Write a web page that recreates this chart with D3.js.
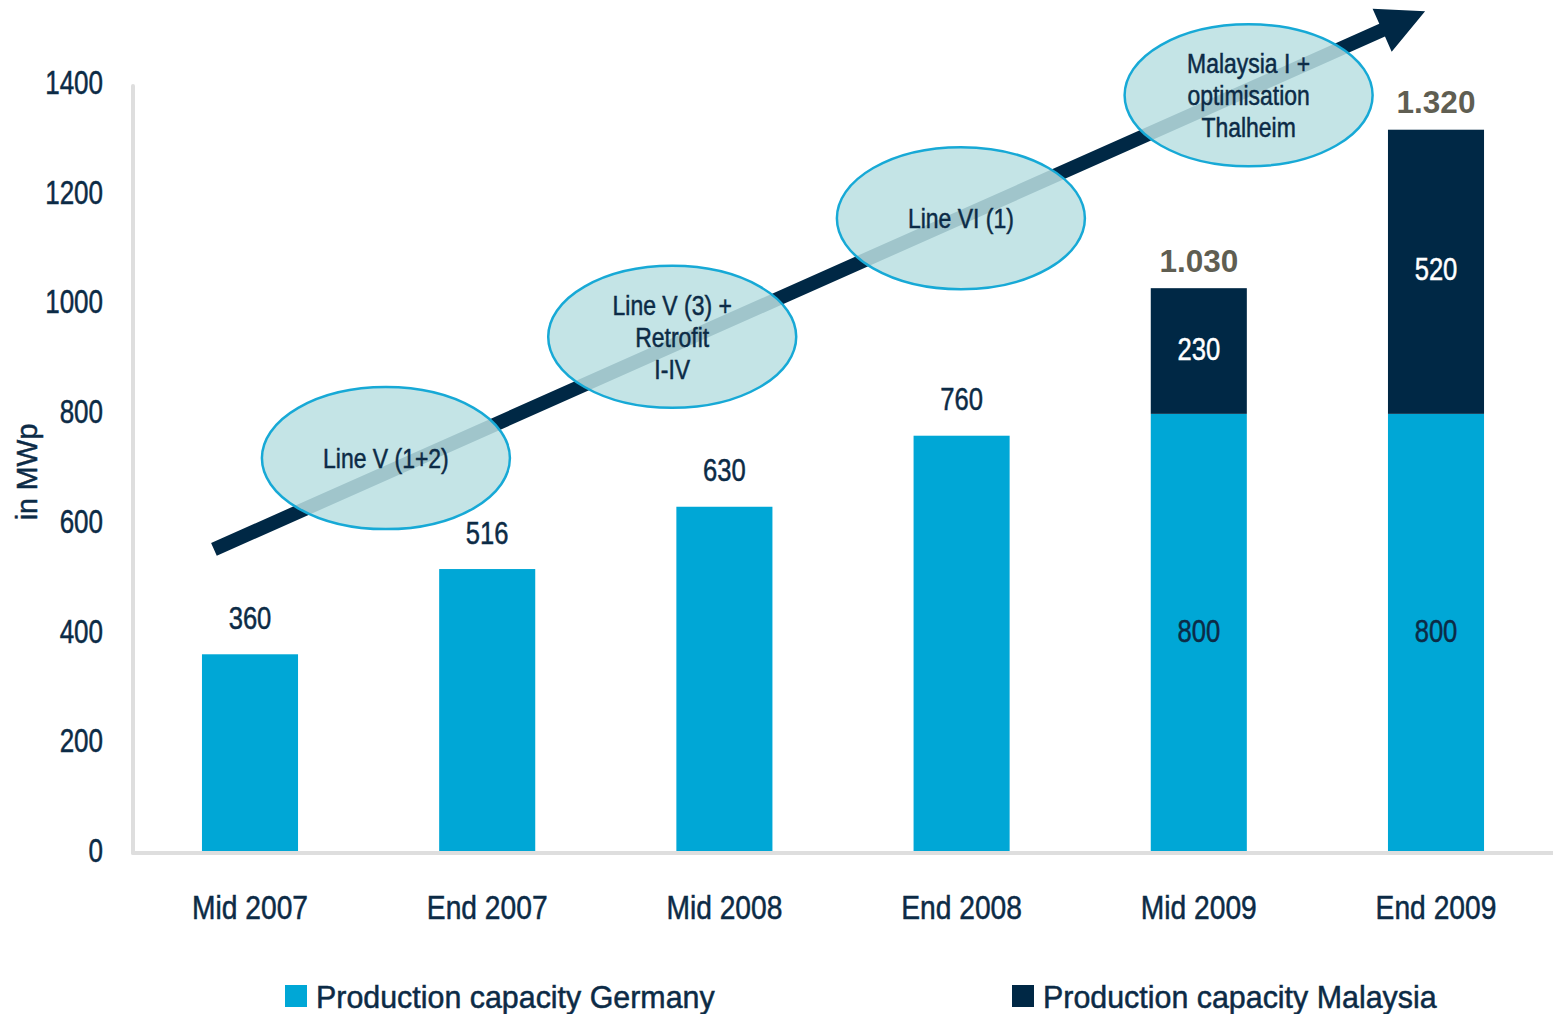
<!DOCTYPE html>
<html>
<head>
<meta charset="utf-8">
<script src="https://cdn.jsdelivr.net/npm/d3@7"></script>
<style>
  html, body { margin: 0; padding: 0; background: #ffffff; }
  svg { display: block; }
  .cond { font-family: "Liberation Sans", Arial, sans-serif; stroke-width: 0.5px; paint-order: fill; }
</style>
</head>
<body>
<svg id="chart" width="1553" height="1014"></svg>
<script>
// ---- data ----
const categories = ["Mid 2007", "End 2007", "Mid 2008", "End 2008", "Mid 2009", "End 2009"];
const germany = [360, 516, 630, 760, 800, 800];
const malaysia = [0, 0, 0, 0, 230, 520];
const yTicks = [0, 200, 400, 600, 800, 1000, 1200, 1400];
const seriesNames = ["Production capacity Germany", "Production capacity Malaysia"];
const yAxisTitle = "in MWp";
// annotation milestones (position in category-index units, value units)
const milestoneLabels = [["Line V (1+2)"], ["Line V (3) +", "Retrofit", "I-IV"], ["Line VI (1)"], ["Malaysia I +", "optimisation", "Thalheim"]];
const milestoneIndex = [0.573, 1.78, 2.997, 4.21];
const milestoneValue = [719, 941, 1158, 1383];
// trend arrow (category-index units, value units)
const arrowFrom = [-0.152, 552];
const arrowTo = [4.954, 1537];

// ---- layout ----
const W = 1553, H = 1014;
const colGer = "#00a7d6", colMal = "#002845", txt = "#0c2b46", totalCol = "#5f5e52";
const svg = d3.select("#chart");

// horizontally condensed text (Arial-Narrow-like look)
function narrow(sel, s) {
  sel.each(function () {
    const t = d3.select(this);
    const x = +t.attr("x") || 0, y = +t.attr("y") || 0;
    t.attr("x", 0).attr("y", 0).attr("transform", `translate(${x},${y}) scale(${s},1)`);
  });
}

const x = d3.scaleBand().domain(categories).range([131.4, 1554.6]).paddingInner(0.595).paddingOuter(0.2975);
const y = d3.scaleLinear().domain([0, 1400]).range([851, 86]);
const xi = d3.scaleLinear().domain([0, 1]).range([x(categories[0]) + x.bandwidth() / 2, x(categories[1]) + x.bandwidth() / 2]);

const fmt = d3.formatLocale({ decimal: ",", thousands: ".", grouping: [3], currency: ["", "€"] }).format(",");

// y axis tick labels
const yAxis = d3.axisLeft(y).tickValues(yTicks).tickSize(0).tickPadding(30).tickFormat(d3.format("d"));
const gy = svg.append("g").attr("transform", "translate(133,0)").call(yAxis);
gy.select(".domain").remove();
gy.selectAll("text").attr("class", "cond").attr("font-size", 32.5).attr("fill", txt).attr("stroke", txt)
  .attr("dy", "0.36em").attr("y", d => -1 - d / 400);
narrow(gy.selectAll("text"), 0.8);

// axis lines
svg.append("line").attr("x1", 133).attr("x2", 133).attr("y1", 86).attr("y2", 853).attr("stroke", "#dedede").attr("stroke-width", 4).attr("stroke-linecap", "round");
svg.append("line").attr("x1", 133).attr("x2", W).attr("y1", 853).attr("y2", 853).attr("stroke", "#dedede").attr("stroke-width", 4).attr("stroke-linecap", "round");

// bars
const rows = categories.map((c, i) => ({ c, g: germany[i], m: malaysia[i] }));
svg.append("g").selectAll("rect").data(rows).join("rect")
  .attr("x", d => x(d.c)).attr("width", x.bandwidth())
  .attr("y", d => y(d.g)).attr("height", d => y(0) - y(d.g)).attr("fill", colGer);
svg.append("g").selectAll("rect").data(rows.filter(d => d.m > 0)).join("rect")
  .attr("x", d => x(d.c)).attr("width", x.bandwidth())
  .attr("y", d => y(d.g + d.m)).attr("height", d => y(d.g) - y(d.g + d.m)).attr("fill", colMal);

// x category labels
const xAxis = d3.axisBottom(x).tickSize(0).tickPadding(45);
const gx = svg.append("g").attr("transform", "translate(0,851)").call(xAxis);
gx.select(".domain").remove();
gx.selectAll("text").attr("class", "cond").attr("font-size", 33).attr("fill", txt).attr("stroke", txt);
narrow(gx.selectAll("text"), 0.855);

// y title
svg.append("text").attr("class", "cond").attr("transform", "translate(37,472) rotate(-90) scale(0.95,1)")
  .attr("text-anchor", "middle").attr("font-size", 30).attr("fill", txt).attr("stroke", txt).text(yAxisTitle);

// trend arrow
const p0 = [xi(arrowFrom[0]), y(arrowFrom[1])], p1 = [xi(arrowTo[0]), y(arrowTo[1])];
const dx = p1[0] - p0[0], dy = p1[1] - p0[1], L = Math.hypot(dx, dy);
const ux = dx / L, uy = dy / L, nx = -uy, ny = ux;
const hw = 7, headLen = 47, headHw = 23.5;
const bx = p1[0] - ux * headLen, by = p1[1] - uy * headLen;
const arrowPts = [
  [p0[0] + nx * hw, p0[1] + ny * hw],
  [bx + nx * hw, by + ny * hw],
  [bx + nx * headHw, by + ny * headHw],
  p1,
  [bx - nx * headHw, by - ny * headHw],
  [bx - nx * hw, by - ny * hw],
  [p0[0] - nx * hw, p0[1] - ny * hw]
];
svg.append("path").attr("d", d3.line()(arrowPts) + "Z").attr("fill", colMal);

// milestone ellipses
const ms = milestoneLabels.map((lines, i) => ({ lines, cx: xi(milestoneIndex[i]), cy: y(milestoneValue[i]) }));
const mg = svg.append("g").selectAll("g").data(ms).join("g");
mg.append("ellipse").attr("cx", d => d.cx).attr("cy", d => d.cy).attr("rx", 124).attr("ry", 71)
  .attr("fill", "rgb(186,223,226)").attr("fill-opacity", 0.86)
  .attr("stroke", "#17a9d6").attr("stroke-width", 2.5);
mg.each(function (d) {
  const g = d3.select(this);
  const n = d.lines.length;
  d.lines.forEach((t, k) => {
    const el = g.append("text").attr("class", "cond").attr("x", d.cx).attr("y", d.cy + (k - (n - 1) / 2) * 32)
      .attr("dy", "0.36em").attr("text-anchor", "middle").attr("font-size", 27).attr("fill", txt).attr("stroke", txt).text(t);
    narrow(el, 0.85);
  });
});

// value labels
const cx = d => x(d.c) + x.bandwidth() / 2;
const single = svg.append("g").selectAll("text").data(rows.filter(d => d.m === 0)).join("text")
  .attr("class", "cond").attr("x", cx).attr("y", d => y(d.g) - 37).attr("dy", "0.36em")
  .attr("text-anchor", "middle").attr("font-size", 32).attr("fill", txt).attr("stroke", txt).text(d => d.g);
narrow(single, 0.8);
const stacked = rows.filter(d => d.m > 0);
const inG = svg.append("g").selectAll("text").data(stacked).join("text")
  .attr("class", "cond").attr("x", cx).attr("y", d => (y(0) + y(d.g)) / 2 - 2).attr("dy", "0.36em")
  .attr("text-anchor", "middle").attr("font-size", 32).attr("fill", txt).attr("stroke", txt).text(d => d.g);
narrow(inG, 0.8);
const inM = svg.append("g").selectAll("text").data(stacked).join("text")
  .attr("class", "cond").attr("x", cx).attr("y", d => (y(d.g) + y(d.g + d.m)) / 2 - 3).attr("dy", "0.36em")
  .attr("text-anchor", "middle").attr("font-size", 32).attr("fill", "#ffffff").attr("stroke", "#ffffff").text(d => d.m);
narrow(inM, 0.8);
svg.append("g").selectAll("text").data(stacked).join("text")
  .attr("x", cx).attr("y", d => y(d.g + d.m) - 28).attr("dy", "0.36em")
  .attr("text-anchor", "middle").attr("font-family", "'Liberation Sans', Arial, sans-serif").attr("font-weight", "bold")
  .attr("font-size", 31.5).attr("fill", totalCol).text(d => fmt(d.g + d.m));

// legend
const legX = [285, 1012];
const leg = svg.append("g").selectAll("g").data(seriesNames).join("g")
  .attr("transform", (d, i) => `translate(${legX[i]},985)`);
leg.append("rect").attr("width", 22).attr("height", 22).attr("fill", (d, i) => i === 0 ? colGer : colMal);
const lt = leg.append("text").attr("class", "cond").attr("x", 31).attr("y", 11).attr("dy", "0.36em")
  .attr("font-size", 32).attr("fill", txt).attr("stroke", txt).text(d => d);
narrow(lt, 0.95);
</script>
</body>
</html>
